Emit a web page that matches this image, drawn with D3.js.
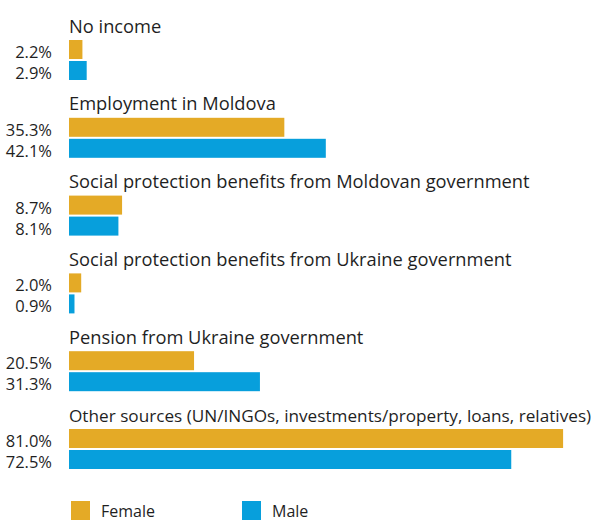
<!DOCTYPE html>
<html>
<head>
<meta charset="utf-8">
<script src="https://cdn.jsdelivr.net/npm/d3@7"></script>
<style>
  html, body { margin: 0; padding: 0; background: #fff; }
  svg { display: block; }
  text { font-family: "Open Sans", "Noto Sans", sans-serif; fill: #1f1f1f; }
</style>
</head>
<body>
<svg id="chart" width="597" height="521"></svg>
<script>
// Sources of income, share of respondents by sex (%)
const categories = [
  "No income",
  "Employment in Moldova",
  "Social protection benefits from Moldovan government",
  "Social protection benefits from Ukraine government",
  "Pension from Ukraine government",
  "Other sources (UN/INGOs, investments/property, loans, relatives)"
];
const female = [2.2, 35.3, 8.7, 2.0, 20.5, 81.0];
const male   = [2.9, 42.1, 8.1, 0.9, 31.3, 72.5];
const seriesNames = ["Female", "Male"];
const seriesColors = ["#E4AA26", "#079FDC"];

const W = 597;
const svg = d3.select("#chart");

const barLeft = 69;
const x = d3.scaleLinear().domain([0, 85]).range([barLeft, barLeft + 85 * 6.1]);

// one band per category; each band holds a label line and two bars
const y = d3.scaleBand().domain(categories).range([18, 18 + 77.8 * categories.length]).paddingInner(0);
const barH = 19, barGap = 2, labelSpace = 22;

const rows = categories.map((c, i) => ({ cat: c, values: [female[i], male[i]] }));

const g = svg.selectAll("g.cat")
  .data(rows)
  .join("g")
  .attr("class", "cat")
  .attr("transform", d => `translate(0,${y(d.cat)})`);

const labelSize = 18.3;
const maxLabelW = W - barLeft - 6;
g.append("text")
  .attr("x", barLeft)
  .attr("y", 14.5)
  .attr("font-size", labelSize)
  .text(d => d.cat)
  .each(function () {
    // shrink labels that would run past the right edge
    const len = this.getComputedTextLength();
    if (len > maxLabelW) {
      d3.select(this).attr("font-size", labelSize * maxLabelW / len);
    }
  });

const bars = g.selectAll("g.bar")
  .data(d => d.values.map((v, k) => ({ v, k })))
  .join("g")
  .attr("class", "bar")
  .attr("transform", d => `translate(0,${labelSpace + d.k * (barH + barGap)})`);

bars.append("rect")
  .attr("x", x(0))
  .attr("y", 0)
  .attr("width", d => x(d.v) - x(0))
  .attr("height", barH)
  .attr("fill", d => seriesColors[d.k]);

bars.append("text")
  .attr("x", 52)
  .attr("y", 18)
  .attr("text-anchor", "end")
  .attr("font-size", 16.5)
  .text(d => d3.format(".1f")(d.v) + "%");

// legend
const legend = svg.selectAll("g.legend")
  .data(seriesNames)
  .join("g")
  .attr("class", "legend")
  .attr("transform", (d, i) => `translate(${71 + i * 171},501)`);

legend.append("rect")
  .attr("width", 19)
  .attr("height", 19)
  .attr("fill", (d, i) => seriesColors[i]);

legend.append("text")
  .attr("x", 30)
  .attr("y", 16)
  .attr("font-size", 16)
  .text(d => d);
</script>
</body>
</html>
